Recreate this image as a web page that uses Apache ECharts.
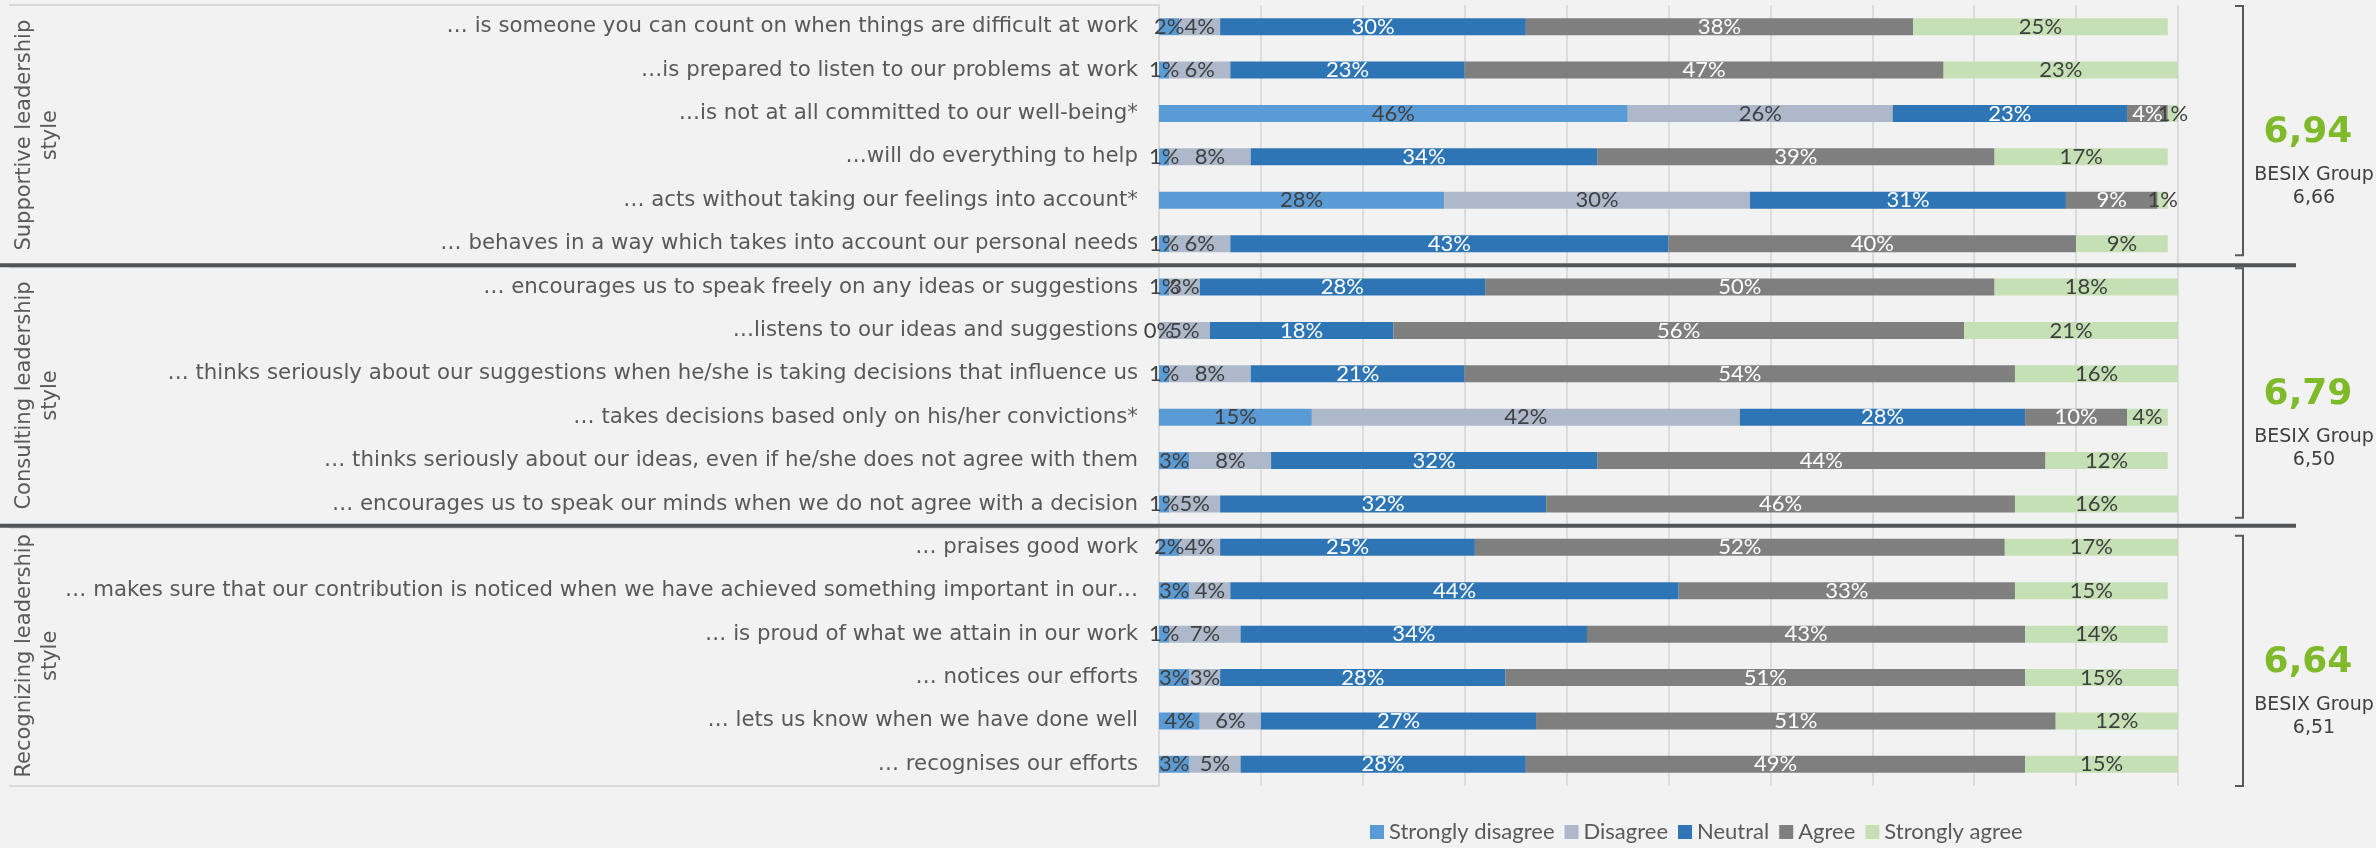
<!DOCTYPE html>
<html>
<head>
<meta charset="utf-8">
<script src="https://cdn.jsdelivr.net/npm/echarts@6/dist/echarts.min.js"></script>
<style>
  html, body { margin: 0; padding: 0; background: #f2f2f2; }
  #chart { width: 2376px; height: 848px; }
</style>
</head>
<body>
<div id="chart"></div>
<script>
// Survey statements, top to bottom
const categories = [
  '… is someone you can count on when things are difficult at work',
  '…is prepared to listen to our problems at work',
  '…is not at all committed to our well-being*',
  '…will do everything to help',
  '… acts without taking our feelings into account*',
  '… behaves in a way which takes into account our personal needs',
  '… encourages us to speak freely on any ideas or suggestions',
  '…listens to our ideas and suggestions',
  '… thinks seriously about our suggestions when he/she is taking decisions that influence us',
  '… takes decisions based only on his/her convictions*',
  '… thinks seriously about our ideas, even if he/she does not agree with them',
  '… encourages us to speak our minds when we do not agree with a decision',
  '… praises good work',
  '… makes sure that our contribution is noticed when we have achieved something important in our…',
  '… is proud of what we attain in our work',
  '… notices our efforts',
  '… lets us know when we have done well',
  '… recognises our efforts'
];

// Answer shares in percent, one entry per statement
const stronglyDisagree = [2, 1, 46, 1, 28, 1,  1, 0, 1, 15, 3, 1,  2, 3, 1, 3, 4, 3];
const disagree         = [4, 6, 26, 8, 30, 6,  3, 5, 8, 42, 8, 5,  4, 4, 7, 3, 6, 5];
const neutral          = [30, 23, 23, 34, 31, 43,  28, 18, 21, 28, 32, 32,  25, 44, 34, 28, 27, 28];
const agree            = [38, 47, 4, 39, 9, 40,  50, 56, 54, 10, 44, 46,  52, 33, 43, 51, 51, 49];
const stronglyAgree    = [25, 23, 1, 17, 1, 9,  18, 21, 16, 4, 12, 16,  17, 15, 14, 15, 12, 15];

const seriesNames = ['Strongly disagree', 'Disagree', 'Neutral', 'Agree', 'Strongly agree'];
const seriesValues = [stronglyDisagree, disagree, neutral, agree, stronglyAgree];

// Leadership styles and their scores
const groupNames = ['Supportive leadership\nstyle', 'Consulting leadership\nstyle', 'Recognizing leadership\nstyle'];
const groupSizes = [6, 6, 6];
const groupScores = ['6,94', '6,79', '6,64'];
const benchmarkName = 'BESIX Group';
const benchmarkScores = ['6,66', '6,50', '6,51'];

// Styling
const colors = ['#5b9bd5', '#adb9ca', '#2e75b6', '#7f7f7f', '#c5e0b4'];
const labelColors = ['#404040', '#404040', '#ffffff', '#ffffff', '#404040'];
const verdanaLike = '"DejaVu Sans", Verdana, sans-serif';
const calibriLike = 'Lato, "Open Sans", sans-serif';

const chart = echarts.init(document.getElementById('chart'), null, { renderer: 'canvas' });

const option = {
  backgroundColor: '#f2f2f2',
  animation: false,
  grid: { left: 1159, right: 198, top: 5, bottom: 62, containLabel: false },
  xAxis: {
    type: 'value', min: 0, max: 100, interval: 10,
    axisLabel: { show: false },
    axisLine: { show: false },
    axisTick: { show: false },
    splitLine: { show: true, lineStyle: { color: '#dcdcdc', width: 2 } }
  },
  yAxis: {
    type: 'category', inverse: true, data: categories,
    axisTick: { show: false },
    axisLine: { show: true, lineStyle: { color: '#d9d9d9', width: 2 } },
    axisLabel: {
      interval: 0, margin: 21, color: '#595959',
      fontFamily: verdanaLike, fontSize: 21.3
    }
  },
  legend: {
    data: seriesNames,
    icon: 'rect', itemWidth: 14, itemHeight: 14, itemGap: 10,
    left: 1365, top: 816,
    textStyle: { fontFamily: calibriLike, fontSize: 22, color: '#595959' },
    selectedMode: false
  },
  series: seriesNames.map((name, i) => ({
    name, type: 'bar', stack: 'total', barWidth: 17,
    data: seriesValues[i],
    itemStyle: { color: colors[i] },
    emphasis: { disabled: true },
    label: {
      show: true, position: 'inside',
      color: labelColors[i], fontFamily: calibriLike, fontSize: 22,
      formatter: p => p.value + '%'
    }
  }))
};
chart.setOption(option);

// Group frames, separators, brackets and scores placed from the category axis
const rowY = categories.map((c, i) => chart.convertToPixel({ yAxisIndex: 0 }, i));
const pitch = rowY[1] - rowY[0];
const bracketTopInset = [1, 3, 10];
const bracketBottomInset = [10, 8, 0];
const graphics = [];
let first = 0;
groupSizes.forEach((n, g) => {
  const bandTop = rowY[first] - pitch / 2;
  const bandBottom = rowY[first + n - 1] + pitch / 2;
  const mid = (bandTop + bandBottom) / 2;

  // light frame lines around the statement labels
  graphics.push({
    type: 'line', silent: true,
    shape: { x1: 9, y1: bandTop + (g === 0 ? 0 : 2), x2: 1159, y2: bandTop + (g === 0 ? 0 : 2) },
    style: { stroke: '#d9d9d9', lineWidth: 2 }
  });
  if (g === groupSizes.length - 1) {
    graphics.push({
      type: 'line', silent: true,
      shape: { x1: 9, y1: bandBottom, x2: 1159, y2: bandBottom },
      style: { stroke: '#d9d9d9', lineWidth: 2 }
    });
  } else {
    // dark divider between styles
    graphics.push({
      type: 'rect', silent: true, z: 10,
      shape: { x: 0, y: bandBottom - 2, width: 2296, height: 4 },
      style: { fill: '#50555a' }
    });
  }

  // rotated style name
  graphics.push({
    type: 'text', silent: true,
    x: 38, y: mid, rotation: Math.PI / 2,
    style: {
      text: groupNames[g], fill: '#595959',
      font: '21px ' + verdanaLike, lineHeight: 26,
      align: 'center', verticalAlign: 'middle'
    }
  });

  // bracket on the right
  const bt = bandTop + bracketTopInset[g];
  const bb = bandBottom - bracketBottomInset[g];
  graphics.push({
    type: 'polyline', silent: true,
    shape: { points: [[2235, bt], [2243, bt], [2243, bb], [2235, bb]] },
    style: { stroke: '#595959', lineWidth: 2, fill: null }
  });
  const bm = (bt + bb) / 2;
  graphics.push({
    type: 'text', silent: true, x: 2308, y: bm + 2,
    style: {
      text: groupScores[g], fill: '#7fba2a',
      font: 'bold 36px ' + verdanaLike,
      align: 'center', verticalAlign: 'middle'
    }
  });
  graphics.push({
    type: 'text', silent: true, x: 2314, y: bm + 44,
    style: {
      text: benchmarkName, fill: '#404040',
      font: '19px ' + verdanaLike,
      align: 'center', verticalAlign: 'middle'
    }
  });
  graphics.push({
    type: 'text', silent: true, x: 2314, y: bm + 67,
    style: {
      text: benchmarkScores[g], fill: '#404040',
      font: '19px ' + verdanaLike,
      align: 'center', verticalAlign: 'middle'
    }
  });
  first += n;
});
chart.setOption({ graphic: graphics });
</script>
</body>
</html>
